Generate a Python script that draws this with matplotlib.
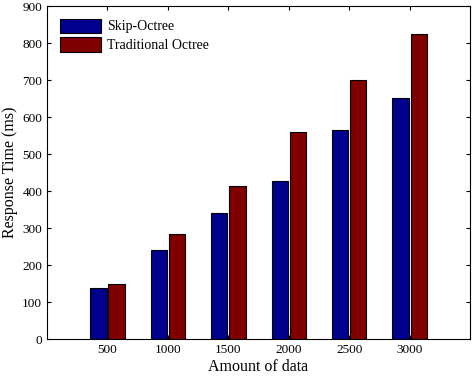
import matplotlib
matplotlib.use("Agg")
import matplotlib.pyplot as plt
import numpy as np

plt.rcParams["font.family"] = ["Liberation Serif", "DejaVu Serif"]

amounts = [500, 1000, 1500, 2000, 2500, 3000]
skip_octree = [137, 242, 342, 426, 566, 652]
traditional_octree = [150, 285, 413, 560, 700, 824]

BLUE = "#00008f"
RED = "#800000"

fig = plt.figure(figsize=(4.72, 3.76), dpi=100)
ax = fig.add_axes([0.0996, 0.098, 0.8964, 0.886])

x = np.array(amounts)
w = 135
ax.bar(x - 75, skip_octree, width=w, color=BLUE, edgecolor="black",
       linewidth=0.8, label="Skip-Octree")
ax.bar(x + 75, traditional_octree, width=w, color=RED, edgecolor="black",
       linewidth=0.8, label="Traditional Octree")

ax.set_xlim(0, 3500)
ax.set_ylim(0, 900)
ax.set_xticks(amounts)
ax.set_yticks(range(0, 901, 100))
ax.tick_params(direction="in", top=True, right=True, labelsize=9.5, length=3)
for s in ax.spines.values():
    s.set_linewidth(0.8)

ax.set_xlabel("Amount of data", fontsize=11.5, labelpad=2)
ax.set_ylabel("Response Time (ms)", fontsize=11.5, labelpad=3)

ax.legend(loc="upper left", frameon=False, fontsize=10, handlelength=3.0,
          handleheight=1.2, handletextpad=0.4, labelspacing=0.3,
          borderaxespad=0.5, borderpad=0.4)

fig.savefig("out.png", dpi=100)
